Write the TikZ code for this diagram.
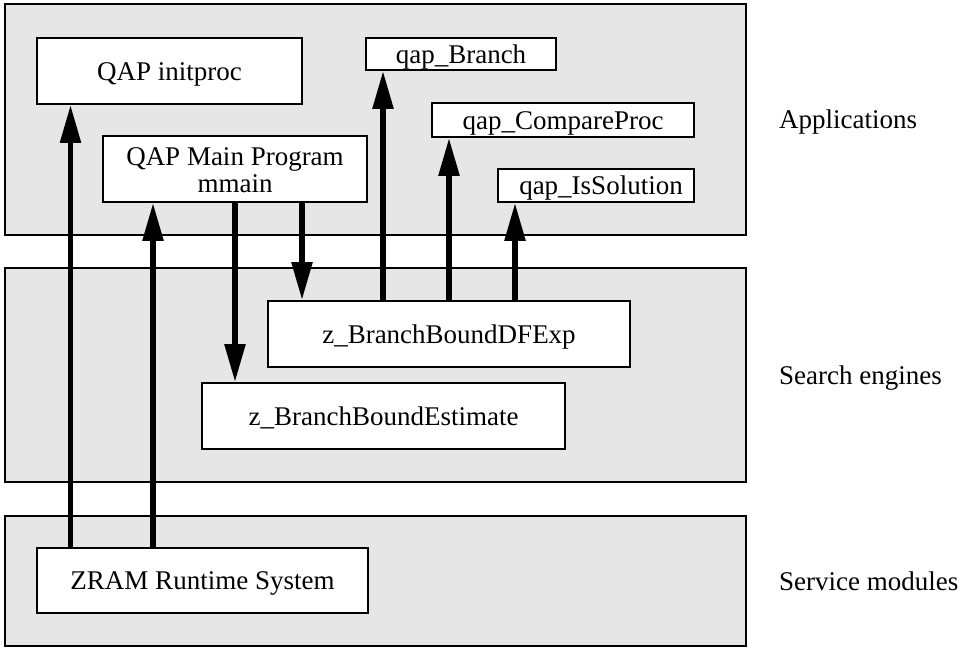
\documentclass[tikz,border=0pt]{standalone}
\usepackage{fontspec}
\setmainfont{Liberation Serif}
\usetikzlibrary{arrows.meta}
\definecolor{panelgray}{HTML}{E6E6E6}
\begin{document}
\begin{tikzpicture}[x=1pt,y=-1pt,
  panel/.style={draw=black,line width=1.8pt,fill=panelgray},
  box/.style={draw=black,line width=1.8pt,fill=white,inner sep=0pt,
    minimum width=#1,text height=18pt,text depth=0pt,align=center},
  lbl/.style={anchor=base west,inner sep=0pt},
  arr/.style={line width=5.5pt,-{Triangle[length=38pt,width=20pt]}},
  every node/.style={font=\fontsize{27}{27}\selectfont}]
\useasboundingbox (0,0) rectangle (971,648);
% panels
\draw[panel] (5,4) rectangle (746,235);
\draw[panel] (5,268) rectangle (746,482);
\draw[panel] (5,516) rectangle (746,646);
% boxes
\node[box=265pt,minimum height=66pt] (init) at (169.5,71) {QAP initproc};
\node[box=264pt,minimum height=66pt,text height=46pt] (main) at (235,169) {QAP Main Program\\mmain};
\node[box=190pt,minimum height=32pt] (branch) at (461,54) {qap\_Branch};
\node[box=262pt,minimum height=34pt] (compare) at (563,120) {qap\_CompareProc};
\node[box=196pt,minimum height=33pt] (issol) at (596,185.5) {\hspace*{10pt}qap\_IsSolution};
\node[box=362pt,minimum height=66pt] (dfexp) at (449,334) {z\_BranchBoundDFExp};
\node[box=363pt,minimum height=66pt] (estim) at (383.5,416) {z\_BranchBoundEstimate};
\node[box=331pt,minimum height=65pt] (zram) at (202.5,580.5) {ZRAM Runtime System};
% labels
\node[lbl] (lapp) at (779,128) {Applications};
\node[lbl] (lsea) at (779,384) {Search engines};
\node[lbl] (lser) at (779,590) {Service modules};
% arrow columns
\coordinate (c1) at (70.5,0);
\coordinate (c2) at (153,0);
\coordinate (c3) at (235,0);
\coordinate (c4) at (302,0);
\coordinate (c5) at (383,0);
\coordinate (c6) at (449,0);
\coordinate (c7) at (515,0);
% arrows
\draw[arr] (zram.north -| c1) -- (init.south -| c1);
\draw[arr] (zram.north -| c2) -- (main.south -| c2);
\draw[arr] (main.south -| c3) -- (estim.north -| c3);
\draw[arr] (main.south -| c4) -- (dfexp.north -| c4);
\draw[arr] (dfexp.north -| c5) -- (branch.south -| c5);
\draw[arr] (dfexp.north -| c6) -- (compare.south -| c6);
\draw[arr] (dfexp.north -| c7) -- (issol.south -| c7);
\end{tikzpicture}
\end{document}
